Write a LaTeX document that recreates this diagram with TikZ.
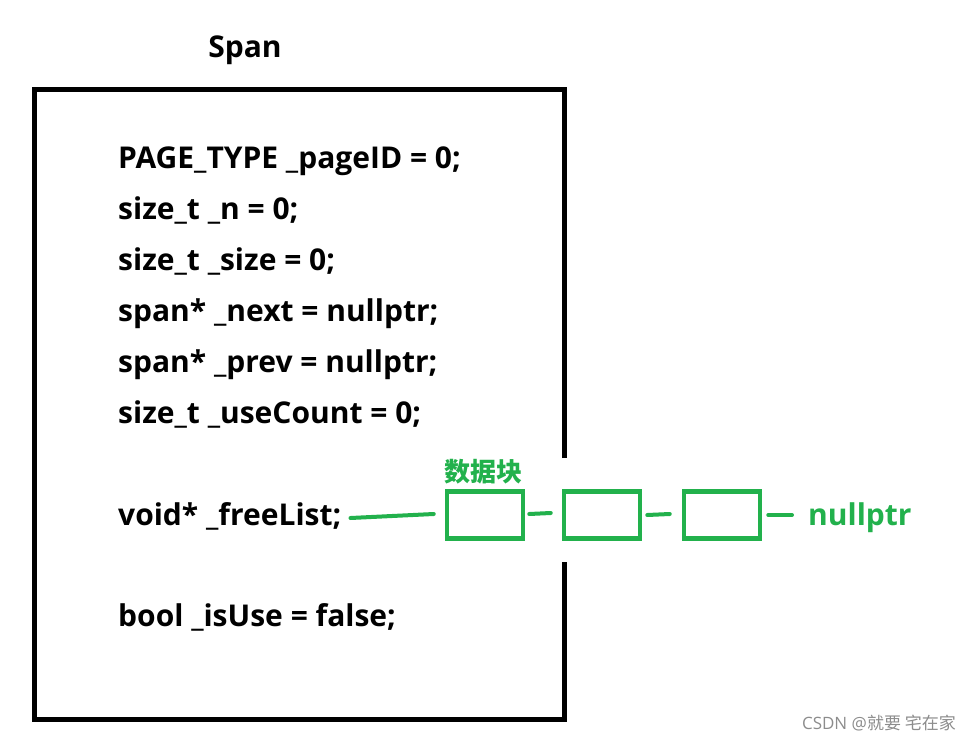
\documentclass[tikz,border=0pt]{standalone}
\usepackage{fontspec}
\setmainfont{Open Sans}
\newfontfamily\cjk{Noto Sans CJK SC}
\usetikzlibrary{positioning,calc}
\definecolor{paintgreen}{RGB}{34,177,76}

\tikzset{
  code/.style={anchor=base west, inner sep=0pt, font=\fontsize{30}{30}\selectfont\bfseries},
  blk/.style={draw=paintgreen, line width=4.5pt, minimum width=76pt, minimum height=47pt, inner sep=0pt},
  link/.style={draw=paintgreen, line width=4pt, line cap=round},
}

\begin{document}
\begin{tikzpicture}[x=1pt, y=-1pt]
  \useasboundingbox (0,0) rectangle (971,741);
  % frame of the span, open on the right for the list
  \coordinate (gapt) at (564,458);
  \coordinate (gapb) at (564,562);
  \draw[line width=5pt, line join=miter] (gapt) -- (564,90) -- (34,90) -- (34,719) -- (564,719) -- (gapb);
  \node[code, anchor=base] (title) at (245,58) {Span};

  \node[code] (l1) at (118,168) {PAGE\_TYPE \_pageID = 0;};
  \node[code] (l2) at (118,219) {size\_t \_n = 0;};
  \node[code] (l3) at (118,270) {size\_t \_size = 0;};
  \node[code] (l4) at (118,321) {span* \_next = nullptr;};
  \node[code] (l5) at (118,372) {span* \_prev = nullptr;};
  \node[code] (l6) at (118,423) {size\_t \_useCount = 0;};
  \node[code] (free) at (118,525) {void* \_freeList;};
  \node[code] (l8) at (118,626) {bool \_isUse = false;};

  % free list blocks
  \node[blk] (b1) at (485,515) {};
  \node[blk] (b2) at (602,515) {};
  \node[blk] (b3) at (722,515) {};
  \node[code, text=paintgreen] (nil) at (808,525) {nullptr};
  \node[text=paintgreen, inner sep=0pt, font=\cjk\bfseries\fontsize{26}{26}\selectfont] (lbl) at (483,472) {数据块};

  \draw[link] ($(free.base east)+(9,-7)$) -- ($(b1.west)+(-11,-1)$);
  \draw[link] ($(b1.east)+(4,-1)$) -- ($(b2.west)+(-11,-2)$);
  \draw[link] ($(b2.east)+(5,0)$) -- ($(b3.west)+(-12,-1)$);
  \draw[link] ($(b3.east)+(6,0)$) -- ($(nil.base west)+(-16,-10)$);

  \node[anchor=base east, inner sep=0pt, text=black!45, font=\fontsize{17}{17}\selectfont] (mark) at (956,729) {CSDN @\cjk 就要 宅在家};
\end{tikzpicture}
\end{document}
